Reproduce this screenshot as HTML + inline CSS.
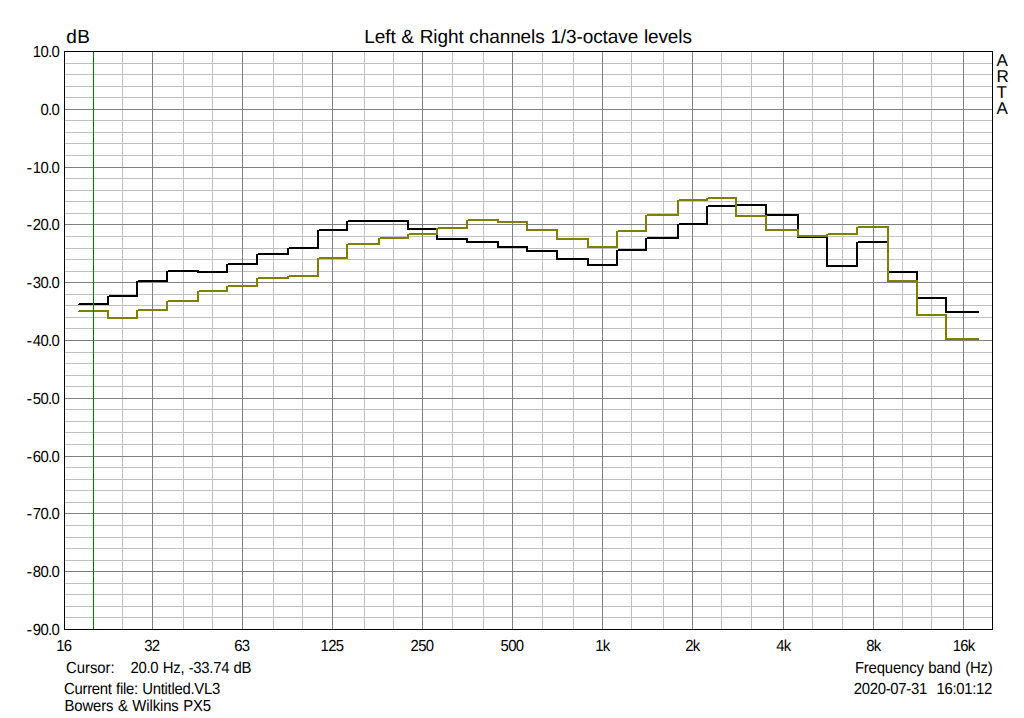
<!DOCTYPE html>
<html lang="en">
<head>
<meta charset="utf-8">
<title>Left &amp; Right channels 1/3-octave levels</title>
<style>
html,body{margin:0;padding:0;background:#ffffff;}
body{width:1024px;height:718px;overflow:hidden;font-family:"Liberation Sans",sans-serif;}
svg{display:block;position:absolute;left:0;top:0;}
svg text{font-family:"Liberation Sans",sans-serif;fill:#000000;white-space:pre;text-rendering:geometricPrecision;}
</style>
</head>
<body>
<svg width="1024" height="718" viewBox="0 0 1024 718">
<rect x="0" y="0" width="1024" height="718" fill="#ffffff"/>
<g shape-rendering="crispEdges">
<rect x="64" y="63" width="928" height="1" fill="#c0c0c0"/>
<rect x="64" y="74" width="928" height="1" fill="#c0c0c0"/>
<rect x="64" y="86" width="928" height="1" fill="#c0c0c0"/>
<rect x="64" y="97" width="928" height="1" fill="#c0c0c0"/>
<rect x="64" y="120" width="928" height="1" fill="#c0c0c0"/>
<rect x="64" y="132" width="928" height="1" fill="#c0c0c0"/>
<rect x="64" y="143" width="928" height="1" fill="#c0c0c0"/>
<rect x="64" y="155" width="928" height="1" fill="#c0c0c0"/>
<rect x="64" y="178" width="928" height="1" fill="#c0c0c0"/>
<rect x="64" y="190" width="928" height="1" fill="#c0c0c0"/>
<rect x="64" y="201" width="928" height="1" fill="#c0c0c0"/>
<rect x="64" y="213" width="928" height="1" fill="#c0c0c0"/>
<rect x="64" y="236" width="928" height="1" fill="#c0c0c0"/>
<rect x="64" y="248" width="928" height="1" fill="#c0c0c0"/>
<rect x="64" y="259" width="928" height="1" fill="#c0c0c0"/>
<rect x="64" y="271" width="928" height="1" fill="#c0c0c0"/>
<rect x="64" y="294" width="928" height="1" fill="#c0c0c0"/>
<rect x="64" y="305" width="928" height="1" fill="#c0c0c0"/>
<rect x="64" y="317" width="928" height="1" fill="#c0c0c0"/>
<rect x="64" y="328" width="928" height="1" fill="#c0c0c0"/>
<rect x="64" y="352" width="928" height="1" fill="#c0c0c0"/>
<rect x="64" y="363" width="928" height="1" fill="#c0c0c0"/>
<rect x="64" y="375" width="928" height="1" fill="#c0c0c0"/>
<rect x="64" y="386" width="928" height="1" fill="#c0c0c0"/>
<rect x="64" y="409" width="928" height="1" fill="#c0c0c0"/>
<rect x="64" y="421" width="928" height="1" fill="#c0c0c0"/>
<rect x="64" y="432" width="928" height="1" fill="#c0c0c0"/>
<rect x="64" y="444" width="928" height="1" fill="#c0c0c0"/>
<rect x="64" y="467" width="928" height="1" fill="#c0c0c0"/>
<rect x="64" y="479" width="928" height="1" fill="#c0c0c0"/>
<rect x="64" y="490" width="928" height="1" fill="#c0c0c0"/>
<rect x="64" y="502" width="928" height="1" fill="#c0c0c0"/>
<rect x="64" y="525" width="928" height="1" fill="#c0c0c0"/>
<rect x="64" y="537" width="928" height="1" fill="#c0c0c0"/>
<rect x="64" y="548" width="928" height="1" fill="#c0c0c0"/>
<rect x="64" y="560" width="928" height="1" fill="#c0c0c0"/>
<rect x="64" y="583" width="928" height="1" fill="#c0c0c0"/>
<rect x="64" y="594" width="928" height="1" fill="#c0c0c0"/>
<rect x="64" y="606" width="928" height="1" fill="#c0c0c0"/>
<rect x="64" y="617" width="928" height="1" fill="#c0c0c0"/>
<rect x="93" y="51" width="1" height="578" fill="#c0c0c0"/>
<rect x="122" y="51" width="1" height="578" fill="#c0c0c0"/>
<rect x="183" y="51" width="1" height="578" fill="#c0c0c0"/>
<rect x="212" y="51" width="1" height="578" fill="#c0c0c0"/>
<rect x="273" y="51" width="1" height="578" fill="#c0c0c0"/>
<rect x="302" y="51" width="1" height="578" fill="#c0c0c0"/>
<rect x="364" y="51" width="1" height="578" fill="#c0c0c0"/>
<rect x="393" y="51" width="1" height="578" fill="#c0c0c0"/>
<rect x="452" y="51" width="1" height="578" fill="#c0c0c0"/>
<rect x="483" y="51" width="1" height="578" fill="#c0c0c0"/>
<rect x="542" y="51" width="1" height="578" fill="#c0c0c0"/>
<rect x="573" y="51" width="1" height="578" fill="#c0c0c0"/>
<rect x="631" y="51" width="1" height="578" fill="#c0c0c0"/>
<rect x="663" y="51" width="1" height="578" fill="#c0c0c0"/>
<rect x="721" y="51" width="1" height="578" fill="#c0c0c0"/>
<rect x="751" y="51" width="1" height="578" fill="#c0c0c0"/>
<rect x="812" y="51" width="1" height="578" fill="#c0c0c0"/>
<rect x="842" y="51" width="1" height="578" fill="#c0c0c0"/>
<rect x="902" y="51" width="1" height="578" fill="#c0c0c0"/>
<rect x="931" y="51" width="1" height="578" fill="#c0c0c0"/>
<rect x="64" y="109" width="928" height="1" fill="#808080"/>
<rect x="64" y="167" width="928" height="1" fill="#808080"/>
<rect x="64" y="224" width="928" height="1" fill="#808080"/>
<rect x="64" y="282" width="928" height="1" fill="#808080"/>
<rect x="64" y="340" width="928" height="1" fill="#808080"/>
<rect x="64" y="398" width="928" height="1" fill="#808080"/>
<rect x="64" y="456" width="928" height="1" fill="#808080"/>
<rect x="64" y="513" width="928" height="1" fill="#808080"/>
<rect x="64" y="571" width="928" height="1" fill="#808080"/>
<rect x="152" y="51" width="1" height="578" fill="#808080"/>
<rect x="242" y="51" width="1" height="578" fill="#808080"/>
<rect x="332" y="51" width="1" height="578" fill="#808080"/>
<rect x="422" y="51" width="1" height="578" fill="#808080"/>
<rect x="512" y="51" width="1" height="578" fill="#808080"/>
<rect x="602" y="51" width="1" height="578" fill="#808080"/>
<rect x="692" y="51" width="1" height="578" fill="#808080"/>
<rect x="783" y="51" width="1" height="578" fill="#808080"/>
<rect x="873" y="51" width="1" height="578" fill="#808080"/>
<rect x="963" y="51" width="1" height="578" fill="#808080"/>
<rect x="79" y="303" width="30" height="1" fill="#000000"/>
<rect x="78" y="304" width="31" height="1" fill="#000000"/>
<rect x="107" y="296" width="2" height="9" fill="#000000"/>
<rect x="109" y="295" width="29" height="1" fill="#000000"/>
<rect x="107" y="296" width="31" height="1" fill="#000000"/>
<rect x="136" y="281" width="2" height="16" fill="#000000"/>
<rect x="138" y="280" width="30" height="1" fill="#000000"/>
<rect x="136" y="281" width="32" height="1" fill="#000000"/>
<rect x="166" y="271" width="2" height="11" fill="#000000"/>
<rect x="168" y="270" width="31" height="1" fill="#000000"/>
<rect x="166" y="271" width="33" height="1" fill="#000000"/>
<rect x="197" y="270" width="2" height="3" fill="#000000"/>
<rect x="197" y="271" width="31" height="1" fill="#000000"/>
<rect x="197" y="272" width="31" height="1" fill="#000000"/>
<rect x="226" y="264" width="2" height="9" fill="#000000"/>
<rect x="228" y="263" width="30" height="1" fill="#000000"/>
<rect x="226" y="264" width="32" height="1" fill="#000000"/>
<rect x="256" y="254" width="2" height="11" fill="#000000"/>
<rect x="258" y="253" width="31" height="1" fill="#000000"/>
<rect x="256" y="254" width="33" height="1" fill="#000000"/>
<rect x="287" y="248" width="2" height="7" fill="#000000"/>
<rect x="289" y="247" width="30" height="1" fill="#000000"/>
<rect x="287" y="248" width="32" height="1" fill="#000000"/>
<rect x="317" y="230" width="2" height="19" fill="#000000"/>
<rect x="319" y="229" width="29" height="1" fill="#000000"/>
<rect x="317" y="230" width="31" height="1" fill="#000000"/>
<rect x="346" y="221" width="2" height="10" fill="#000000"/>
<rect x="348" y="220" width="32" height="1" fill="#000000"/>
<rect x="346" y="221" width="34" height="1" fill="#000000"/>
<rect x="378" y="220" width="31" height="1" fill="#000000"/>
<rect x="378" y="221" width="31" height="1" fill="#000000"/>
<rect x="407" y="220" width="2" height="10" fill="#000000"/>
<rect x="407" y="228" width="31" height="1" fill="#000000"/>
<rect x="407" y="229" width="31" height="1" fill="#000000"/>
<rect x="436" y="228" width="2" height="12" fill="#000000"/>
<rect x="436" y="238" width="32" height="1" fill="#000000"/>
<rect x="436" y="239" width="32" height="1" fill="#000000"/>
<rect x="466" y="238" width="2" height="5" fill="#000000"/>
<rect x="466" y="241" width="33" height="1" fill="#000000"/>
<rect x="466" y="242" width="33" height="1" fill="#000000"/>
<rect x="497" y="241" width="2" height="7" fill="#000000"/>
<rect x="497" y="246" width="31" height="1" fill="#000000"/>
<rect x="497" y="247" width="31" height="1" fill="#000000"/>
<rect x="526" y="246" width="2" height="6" fill="#000000"/>
<rect x="526" y="250" width="32" height="1" fill="#000000"/>
<rect x="526" y="251" width="32" height="1" fill="#000000"/>
<rect x="556" y="250" width="2" height="10" fill="#000000"/>
<rect x="556" y="258" width="33" height="1" fill="#000000"/>
<rect x="556" y="259" width="33" height="1" fill="#000000"/>
<rect x="587" y="258" width="2" height="8" fill="#000000"/>
<rect x="587" y="264" width="31" height="1" fill="#000000"/>
<rect x="587" y="265" width="31" height="1" fill="#000000"/>
<rect x="616" y="250" width="2" height="16" fill="#000000"/>
<rect x="618" y="249" width="29" height="1" fill="#000000"/>
<rect x="616" y="250" width="31" height="1" fill="#000000"/>
<rect x="645" y="238" width="2" height="13" fill="#000000"/>
<rect x="647" y="237" width="32" height="1" fill="#000000"/>
<rect x="645" y="238" width="34" height="1" fill="#000000"/>
<rect x="677" y="224" width="2" height="15" fill="#000000"/>
<rect x="679" y="223" width="29" height="1" fill="#000000"/>
<rect x="677" y="224" width="31" height="1" fill="#000000"/>
<rect x="706" y="206" width="2" height="19" fill="#000000"/>
<rect x="708" y="205" width="29" height="1" fill="#000000"/>
<rect x="706" y="206" width="31" height="1" fill="#000000"/>
<rect x="735" y="205" width="2" height="2" fill="#000000"/>
<rect x="737" y="204" width="30" height="1" fill="#000000"/>
<rect x="735" y="205" width="32" height="1" fill="#000000"/>
<rect x="765" y="204" width="2" height="12" fill="#000000"/>
<rect x="765" y="214" width="34" height="1" fill="#000000"/>
<rect x="765" y="215" width="34" height="1" fill="#000000"/>
<rect x="797" y="214" width="2" height="24" fill="#000000"/>
<rect x="797" y="236" width="31" height="1" fill="#000000"/>
<rect x="797" y="237" width="31" height="1" fill="#000000"/>
<rect x="826" y="236" width="2" height="31" fill="#000000"/>
<rect x="826" y="265" width="32" height="1" fill="#000000"/>
<rect x="826" y="266" width="32" height="1" fill="#000000"/>
<rect x="856" y="242" width="2" height="25" fill="#000000"/>
<rect x="858" y="241" width="31" height="1" fill="#000000"/>
<rect x="856" y="242" width="33" height="1" fill="#000000"/>
<rect x="887" y="241" width="2" height="32" fill="#000000"/>
<rect x="887" y="271" width="31" height="1" fill="#000000"/>
<rect x="887" y="272" width="31" height="1" fill="#000000"/>
<rect x="916" y="271" width="2" height="28" fill="#000000"/>
<rect x="916" y="297" width="31" height="1" fill="#000000"/>
<rect x="916" y="298" width="31" height="1" fill="#000000"/>
<rect x="945" y="297" width="2" height="16" fill="#000000"/>
<rect x="945" y="311" width="34" height="1" fill="#000000"/>
<rect x="945" y="312" width="34" height="1" fill="#000000"/>
<rect x="79" y="310" width="30" height="1" fill="#808000"/>
<rect x="78" y="311" width="31" height="1" fill="#808000"/>
<rect x="107" y="310" width="2" height="9" fill="#808000"/>
<rect x="107" y="317" width="31" height="1" fill="#808000"/>
<rect x="107" y="318" width="31" height="1" fill="#808000"/>
<rect x="136" y="310" width="2" height="9" fill="#808000"/>
<rect x="138" y="309" width="30" height="1" fill="#808000"/>
<rect x="136" y="310" width="32" height="1" fill="#808000"/>
<rect x="166" y="301" width="2" height="10" fill="#808000"/>
<rect x="168" y="300" width="31" height="1" fill="#808000"/>
<rect x="166" y="301" width="33" height="1" fill="#808000"/>
<rect x="197" y="291" width="2" height="11" fill="#808000"/>
<rect x="199" y="290" width="29" height="1" fill="#808000"/>
<rect x="197" y="291" width="31" height="1" fill="#808000"/>
<rect x="226" y="286" width="2" height="6" fill="#808000"/>
<rect x="228" y="285" width="30" height="1" fill="#808000"/>
<rect x="226" y="286" width="32" height="1" fill="#808000"/>
<rect x="256" y="278" width="2" height="9" fill="#808000"/>
<rect x="258" y="277" width="31" height="1" fill="#808000"/>
<rect x="256" y="278" width="33" height="1" fill="#808000"/>
<rect x="287" y="276" width="2" height="3" fill="#808000"/>
<rect x="289" y="275" width="30" height="1" fill="#808000"/>
<rect x="287" y="276" width="32" height="1" fill="#808000"/>
<rect x="317" y="258" width="2" height="19" fill="#808000"/>
<rect x="319" y="257" width="29" height="1" fill="#808000"/>
<rect x="317" y="258" width="31" height="1" fill="#808000"/>
<rect x="346" y="244" width="2" height="15" fill="#808000"/>
<rect x="348" y="243" width="32" height="1" fill="#808000"/>
<rect x="346" y="244" width="34" height="1" fill="#808000"/>
<rect x="378" y="238" width="2" height="7" fill="#808000"/>
<rect x="380" y="237" width="29" height="1" fill="#808000"/>
<rect x="378" y="238" width="31" height="1" fill="#808000"/>
<rect x="407" y="234" width="2" height="5" fill="#808000"/>
<rect x="409" y="233" width="29" height="1" fill="#808000"/>
<rect x="407" y="234" width="31" height="1" fill="#808000"/>
<rect x="436" y="228" width="2" height="7" fill="#808000"/>
<rect x="438" y="227" width="30" height="1" fill="#808000"/>
<rect x="436" y="228" width="32" height="1" fill="#808000"/>
<rect x="466" y="220" width="2" height="9" fill="#808000"/>
<rect x="468" y="219" width="31" height="1" fill="#808000"/>
<rect x="466" y="220" width="33" height="1" fill="#808000"/>
<rect x="497" y="219" width="2" height="4" fill="#808000"/>
<rect x="497" y="221" width="31" height="1" fill="#808000"/>
<rect x="497" y="222" width="31" height="1" fill="#808000"/>
<rect x="526" y="221" width="2" height="10" fill="#808000"/>
<rect x="526" y="229" width="32" height="1" fill="#808000"/>
<rect x="526" y="230" width="32" height="1" fill="#808000"/>
<rect x="556" y="229" width="2" height="11" fill="#808000"/>
<rect x="556" y="238" width="33" height="1" fill="#808000"/>
<rect x="556" y="239" width="33" height="1" fill="#808000"/>
<rect x="587" y="238" width="2" height="10" fill="#808000"/>
<rect x="587" y="246" width="31" height="1" fill="#808000"/>
<rect x="587" y="247" width="31" height="1" fill="#808000"/>
<rect x="616" y="231" width="2" height="17" fill="#808000"/>
<rect x="618" y="230" width="29" height="1" fill="#808000"/>
<rect x="616" y="231" width="31" height="1" fill="#808000"/>
<rect x="645" y="215" width="2" height="17" fill="#808000"/>
<rect x="647" y="214" width="32" height="1" fill="#808000"/>
<rect x="645" y="215" width="34" height="1" fill="#808000"/>
<rect x="677" y="200" width="2" height="16" fill="#808000"/>
<rect x="679" y="199" width="29" height="1" fill="#808000"/>
<rect x="677" y="200" width="31" height="1" fill="#808000"/>
<rect x="706" y="198" width="2" height="3" fill="#808000"/>
<rect x="708" y="197" width="29" height="1" fill="#808000"/>
<rect x="706" y="198" width="31" height="1" fill="#808000"/>
<rect x="735" y="197" width="2" height="20" fill="#808000"/>
<rect x="735" y="215" width="32" height="1" fill="#808000"/>
<rect x="735" y="216" width="32" height="1" fill="#808000"/>
<rect x="765" y="215" width="2" height="16" fill="#808000"/>
<rect x="765" y="229" width="34" height="1" fill="#808000"/>
<rect x="765" y="230" width="34" height="1" fill="#808000"/>
<rect x="797" y="229" width="2" height="8" fill="#808000"/>
<rect x="797" y="235" width="31" height="1" fill="#808000"/>
<rect x="797" y="236" width="31" height="1" fill="#808000"/>
<rect x="826" y="234" width="2" height="3" fill="#808000"/>
<rect x="828" y="233" width="30" height="1" fill="#808000"/>
<rect x="826" y="234" width="32" height="1" fill="#808000"/>
<rect x="856" y="227" width="2" height="8" fill="#808000"/>
<rect x="858" y="226" width="31" height="1" fill="#808000"/>
<rect x="856" y="227" width="33" height="1" fill="#808000"/>
<rect x="887" y="226" width="2" height="56" fill="#808000"/>
<rect x="887" y="280" width="31" height="1" fill="#808000"/>
<rect x="887" y="281" width="31" height="1" fill="#808000"/>
<rect x="916" y="280" width="2" height="36" fill="#808000"/>
<rect x="916" y="314" width="31" height="1" fill="#808000"/>
<rect x="916" y="315" width="31" height="1" fill="#808000"/>
<rect x="945" y="314" width="2" height="26" fill="#808000"/>
<rect x="945" y="338" width="34" height="1" fill="#808000"/>
<rect x="945" y="339" width="34" height="1" fill="#808000"/>
<rect x="93" y="51" width="1" height="578" fill="#008000"/>
<rect x="64" y="51" width="929" height="1" fill="#000"/>
<rect x="64" y="629" width="929" height="1" fill="#000"/>
<rect x="64" y="51" width="1" height="579" fill="#000"/>
<rect x="992" y="51" width="1" height="579" fill="#000"/>
</g>
<g>
<text x="364.3" y="43" font-size="19" letter-spacing="-0.1" word-spacing="0.6" xml:space="preserve">Left &amp; Right channels 1/3-octave levels</text>
<text x="66.2" y="43" font-size="19" letter-spacing="0.6" xml:space="preserve">dB</text>
<text transform="translate(59.3 57) scale(0.93 1)" font-size="16" text-anchor="end" letter-spacing="-0.65" xml:space="preserve">10.0</text>
<text transform="translate(59.3 115) scale(0.93 1)" font-size="16" text-anchor="end" letter-spacing="-0.65" xml:space="preserve">0.0</text>
<text transform="translate(26.6 173) scale(1.08 1)" font-size="16" xml:space="preserve">-</text>
<text transform="translate(59.3 173) scale(0.93 1)" font-size="16" text-anchor="end" letter-spacing="-0.65" xml:space="preserve">10.0</text>
<text transform="translate(26.6 230) scale(1.08 1)" font-size="16" xml:space="preserve">-</text>
<text transform="translate(59.3 230) scale(0.93 1)" font-size="16" text-anchor="end" letter-spacing="-0.65" xml:space="preserve">20.0</text>
<text transform="translate(26.6 288) scale(1.08 1)" font-size="16" xml:space="preserve">-</text>
<text transform="translate(59.3 288) scale(0.93 1)" font-size="16" text-anchor="end" letter-spacing="-0.65" xml:space="preserve">30.0</text>
<text transform="translate(26.6 346) scale(1.08 1)" font-size="16" xml:space="preserve">-</text>
<text transform="translate(59.3 346) scale(0.93 1)" font-size="16" text-anchor="end" letter-spacing="-0.65" xml:space="preserve">40.0</text>
<text transform="translate(26.6 404) scale(1.08 1)" font-size="16" xml:space="preserve">-</text>
<text transform="translate(59.3 404) scale(0.93 1)" font-size="16" text-anchor="end" letter-spacing="-0.65" xml:space="preserve">50.0</text>
<text transform="translate(26.6 462) scale(1.08 1)" font-size="16" xml:space="preserve">-</text>
<text transform="translate(59.3 462) scale(0.93 1)" font-size="16" text-anchor="end" letter-spacing="-0.65" xml:space="preserve">60.0</text>
<text transform="translate(26.6 519) scale(1.08 1)" font-size="16" xml:space="preserve">-</text>
<text transform="translate(59.3 519) scale(0.93 1)" font-size="16" text-anchor="end" letter-spacing="-0.65" xml:space="preserve">70.0</text>
<text transform="translate(26.6 577) scale(1.08 1)" font-size="16" xml:space="preserve">-</text>
<text transform="translate(59.3 577) scale(0.93 1)" font-size="16" text-anchor="end" letter-spacing="-0.65" xml:space="preserve">80.0</text>
<text transform="translate(26.6 635) scale(1.08 1)" font-size="16" xml:space="preserve">-</text>
<text transform="translate(59.3 635) scale(0.93 1)" font-size="16" text-anchor="end" letter-spacing="-0.65" xml:space="preserve">90.0</text>
<text transform="translate(63.7 651) scale(0.93 1)" font-size="16" text-anchor="middle" letter-spacing="-0.8" xml:space="preserve">16</text>
<text transform="translate(151.7 651) scale(0.93 1)" font-size="16" text-anchor="middle" letter-spacing="-0.8" xml:space="preserve">32</text>
<text transform="translate(241.7 651) scale(0.93 1)" font-size="16" text-anchor="middle" letter-spacing="-0.8" xml:space="preserve">63</text>
<text transform="translate(332.0 651) scale(0.93 1)" font-size="16" text-anchor="middle" letter-spacing="-0.73" xml:space="preserve">125</text>
<text transform="translate(422.0 651) scale(0.93 1)" font-size="16" text-anchor="middle" letter-spacing="-0.73" xml:space="preserve">250</text>
<text transform="translate(512.0 651) scale(0.93 1)" font-size="16" text-anchor="middle" letter-spacing="-0.73" xml:space="preserve">500</text>
<text transform="translate(602.3 651) scale(0.93 1)" font-size="16" text-anchor="middle" letter-spacing="-1.0" xml:space="preserve">1k</text>
<text transform="translate(692.3 651) scale(0.93 1)" font-size="16" text-anchor="middle" letter-spacing="-1.0" xml:space="preserve">2k</text>
<text transform="translate(783.3 651) scale(0.93 1)" font-size="16" text-anchor="middle" letter-spacing="-1.0" xml:space="preserve">4k</text>
<text transform="translate(873.3 651) scale(0.93 1)" font-size="16" text-anchor="middle" letter-spacing="-1.0" xml:space="preserve">8k</text>
<text transform="translate(963.6 651) scale(0.93 1)" font-size="16" text-anchor="middle" letter-spacing="-0.73" xml:space="preserve">16k</text>
<text transform="translate(66 673) scale(0.93 1)" font-size="16" letter-spacing="-0.02" xml:space="preserve">Cursor:</text>
<text transform="translate(130.5 673) scale(0.93 1)" font-size="16" letter-spacing="-0.3" word-spacing="0.6" xml:space="preserve">20.0 Hz, -33.74 dB</text>
<text transform="translate(64 694) scale(0.93 1)" font-size="16" letter-spacing="-0.3" word-spacing="0.6" xml:space="preserve">Current file: Untitled.VL3</text>
<text transform="translate(64.5 711) scale(0.93 1)" font-size="16" letter-spacing="-0.13" word-spacing="0.6" xml:space="preserve">Bowers &amp; Wilkins PX5</text>
<text transform="translate(992.6 673) scale(0.93 1)" font-size="16" text-anchor="end" letter-spacing="-0.18" word-spacing="0.6" xml:space="preserve">Frequency band (Hz)</text>
<text transform="translate(992 694) scale(0.93 1)" font-size="16" text-anchor="end" letter-spacing="-0.32" word-spacing="1.0" xml:space="preserve">2020-07-31  16:01:12</text>
<text x="996.6" y="66" font-size="17" xml:space="preserve">A</text>
<text x="996.6" y="82" font-size="17" xml:space="preserve">R</text>
<text x="996.6" y="98" font-size="17" xml:space="preserve">T</text>
<text x="996.6" y="114" font-size="17" xml:space="preserve">A</text>
</g>
</svg>
</body>
</html>
